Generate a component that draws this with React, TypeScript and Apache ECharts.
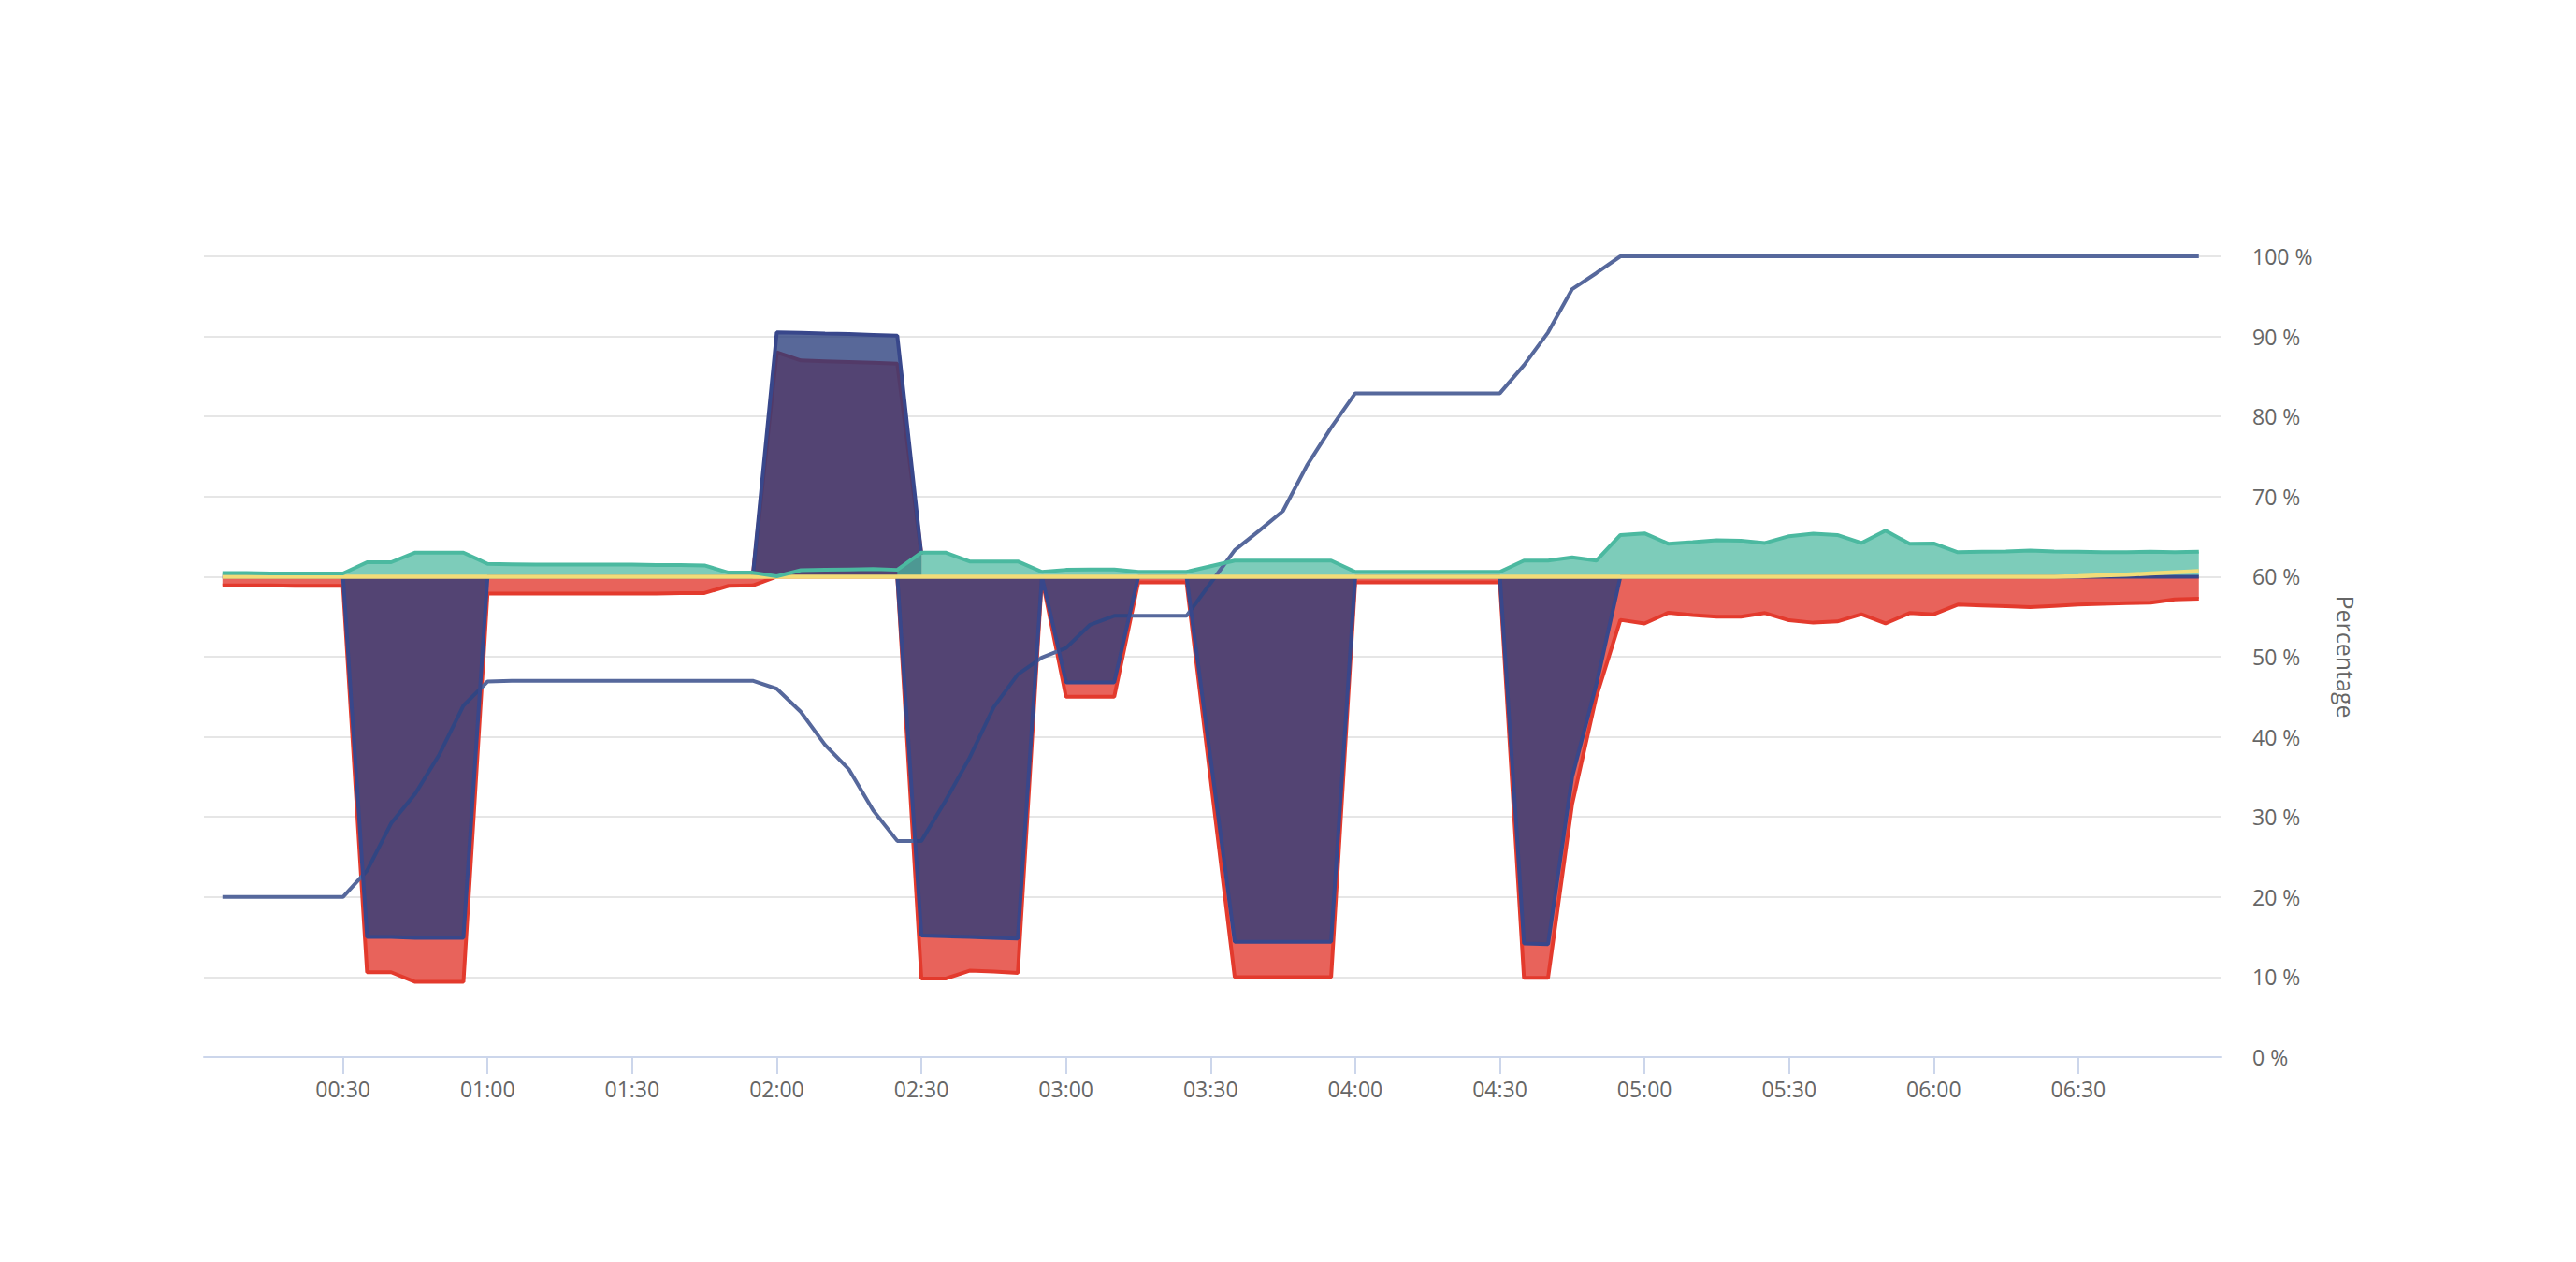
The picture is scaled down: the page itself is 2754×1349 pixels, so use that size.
import React, { useEffect, useRef } from "react";
import * as echarts from "echarts";

// ---- data ----
const times = [
  "00:05", "00:10", "00:15", "00:20", "00:25", "00:30", "00:35", "00:40", "00:45", "00:50",
  "00:55", "01:00", "01:05", "01:10", "01:15", "01:20", "01:25", "01:30", "01:35", "01:40",
  "01:45", "01:50", "01:55", "02:00", "02:05", "02:10", "02:15", "02:20", "02:25", "02:30",
  "02:35", "02:40", "02:45", "02:50", "02:55", "03:00", "03:05", "03:10", "03:15", "03:20",
  "03:25", "03:30", "03:35", "03:40", "03:45", "03:50", "03:55", "04:00", "04:05", "04:10",
  "04:15", "04:20", "04:25", "04:30", "04:35", "04:40", "04:45", "04:50", "04:55", "05:00",
  "05:05", "05:10", "05:15", "05:20", "05:25", "05:30", "05:35", "05:40", "05:45", "05:50",
  "05:55", "06:00", "06:05", "06:10", "06:15", "06:20", "06:25", "06:30", "06:35", "06:40",
  "06:45", "06:50", "06:55",
];

const tealValues = [
  60.45, 60.45, 60.4, 60.4, 60.4, 60.4, 61.8, 61.8, 63.0, 63.0,
  63.0, 61.6, 61.55, 61.5, 61.5, 61.5, 61.5, 61.5, 61.45, 61.45,
  61.4, 60.5, 60.5, 60.05, 60.8, 60.85, 60.9, 60.95, 60.85, 63.0,
  63.0, 61.9, 61.9, 61.9, 60.6, 60.85, 60.9, 60.9, 60.6, 60.6,
  60.6, 61.3, 62.0, 62.0, 62.0, 62.0, 62.0, 60.6, 60.6, 60.6,
  60.6, 60.6, 60.6, 60.6, 62.0, 62.0, 62.4, 62.0, 65.2, 65.4,
  64.1, 64.3, 64.55, 64.5, 64.2, 65.05, 65.35, 65.2, 64.2, 65.75,
  64.1, 64.15, 63.05, 63.1, 63.15, 63.25, 63.15, 63.1, 63.05, 63.05,
  63.1, 63.05, 63.1,
];

const redValues = [
  58.9, 58.9, 58.9, 58.85, 58.85, 58.85, 10.6, 10.6, 9.4, 9.4,
  9.4, 57.9, 57.9, 57.9, 57.9, 57.9, 57.9, 57.9, 57.9, 57.95,
  57.95, 58.85, 58.9, 60, 60, 60, 60, 60, 60, 9.8,
  9.8, 10.8, 10.7, 10.5, 59.8, 45.0, 45.0, 45.0, 59.3, 59.3,
  59.3, 34.7, 10.0, 10.0, 10.0, 10.0, 10.0, 59.3, 59.3, 59.3,
  59.3, 59.3, 59.3, 59.3, 9.9, 9.9, 31.6, 45.0, 54.6, 54.15,
  55.5, 55.2, 55.0, 55.0, 55.45, 54.55, 54.25, 54.4, 55.3, 54.15,
  55.45, 55.3, 56.5, 56.4, 56.3, 56.2, 56.35, 56.5, 56.6, 56.7,
  56.75, 57.15, 57.25,
];

// null = no value (the 02:00 block is drawn by its own arrays below)
const navyValues: (number | null)[] = [
  60, 60, 60, 60, 60, 60, 15.0, 15.0, 14.9, 14.9,
  14.9, 60, 60, 60, 60, 60, 60, 60, 60, 60,
  60, 60, 60, null, null, null, null, null, 60, 15.2,
  15.1, 15.0, 14.9, 14.8, 60, 46.8, 46.8, 46.8, 60, 60,
  60, 37.2, 14.4, 14.4, 14.4, 14.4, 14.4, 60, 60, 60,
  60, 60, 60, 60, 14.2, 14.1, 35.0, 46.5, 60, 60,
  60, 60, 60, 60, 60, 60, 60, 60, 60, 60,
  60, 60, 60, 60, 60, 60, 60, 60, 60, 60,
  60, 60, 60,
];

const blockTimes = ["01:55", "02:00", "02:05", "02:10", "02:15", "02:20", "02:25", "02:30"];
const blockOuter = [60, 90.5, 90.45, 90.35, 90.3, 90.2, 90.1, 62.8];
const blockInner = [60, 88.0, 87.0, 86.9, 86.8, 86.7, 86.6, 62.8];
const tealOverlapTimes = ["02:25", "02:30"];

const baselineValues = [
  60, 60, 60, 60, 60, 60, 60, 60, 60, 60,
  60, 60, 60, 60, 60, 60, 60, 60, 60, 60,
  60, 60, 60, 60, 60, 60, 60, 60, 60, 60,
  60, 60, 60, 60, 60, 60, 60, 60, 60, 60,
  60, 60, 60, 60, 60, 60, 60, 60, 60, 60,
  60, 60, 60, 60, 60, 60, 60, 60, 60, 60,
  60, 60, 60, 60, 60, 60, 60, 60, 60, 60,
  60, 60, 60, 60, 60, 60, 60, 60.05, 60.15, 60.25,
  60.4, 60.55, 60.7,
];

const blueValues = [
  20.0, 20.0, 20.0, 20.0, 20.0, 20.0, 23.3, 29.2, 32.9, 37.8,
  43.9, 46.9, 47.0, 47.0, 47.0, 47.0, 47.0, 47.0, 47.0, 47.0,
  47.0, 47.0, 47.0, 46.0, 43.1, 39.0, 35.9, 30.8, 27.0, 27.0,
  32.0, 37.4, 43.7, 47.8, 49.9, 51.1, 54.0, 55.1, 55.1, 55.1,
  55.1, 59.2, 63.3, 65.7, 68.2, 73.9, 78.6, 82.9, 82.9, 82.9,
  82.9, 82.9, 82.9, 82.9, 86.4, 90.5, 95.9, 97.9, 100, 100,
  100, 100, 100, 100, 100, 100, 100, 100, 100, 100,
  100, 100, 100, 100, 100, 100, 100, 100, 100, 100,
  100, 100, 100,
];

const xTickLabels = [
  "00:30", "01:00", "01:30", "02:00", "02:30", "03:00", "03:30",
  "04:00", "04:30", "05:00", "05:30", "06:00", "06:30",
];
const yTicks = [0, 10, 20, 30, 40, 50, 60, 70, 80, 90, 100];

// ---- helpers ----
const toMin = (t: string) => {
  const [h, m] = t.split(":").map(Number);
  return h * 60 + m;
};
const fmt = (v: number) => {
  const h = Math.floor(v / 60);
  const m = Math.round(v - h * 60);
  return String(h).padStart(2, "0") + ":" + String(m).padStart(2, "0");
};
const pairs = (ts: string[], vals: (number | null)[]) =>
  ts.map((t, i) => [toMin(t), vals[i] == null ? "-" : vals[i]]);

const FONT = "'Open Sans', 'Noto Sans', sans-serif";
const NAVY_FILL = "rgba(38,59,122,0.77)";
const NAVY_LINE = "#38478b";
const RED_FILL = "#e8635b";
const RED_LINE = "#e33a2d";
const TEAL_FILL = "rgba(75,184,159,0.72)";
const TEAL_LINE = "#4bb9a0";
const LW = 4;

function area(name: string, data: any[], line: string, fill: string, z: number, lw = LW) {
  return {
    type: "line",
    name,
    data,
    z,
    symbol: "none",
    showSymbol: false,
    silent: true,
    connectNulls: false,
    lineStyle: lw > 0 ? { color: line, width: lw } : { width: 0, opacity: 0 },
    itemStyle: { color: line },
    areaStyle: { color: fill, opacity: 1, origin: 60 },
  };
}
function line(name: string, data: any[], color: string, z: number, lw = LW) {
  return {
    type: "line",
    name,
    data,
    z,
    symbol: "none",
    showSymbol: false,
    silent: true,
    lineStyle: { color, width: lw },
    itemStyle: { color },
  };
}

export default function App() {
  const ref = useRef<HTMLDivElement>(null);

  useEffect(() => {
    document.body.style.margin = "0";
    document.body.style.overflow = "hidden";
    if (!ref.current) return;
    const chart = echarts.init(ref.current, null, { renderer: "svg" });

    const tealOverlap = tealOverlapTimes.map((t) => [toMin(t), tealValues[times.indexOf(t)]]);

    chart.setOption({
      animation: false,
      backgroundColor: "#ffffff",
      textStyle: { fontFamily: FONT },
      grid: { left: 218, right: 379, top: 274, bottom: 219, containLabel: false },
      xAxis: {
        type: "value",
        min: 1.16,
        max: 419.7,
        splitLine: { show: false },
        axisLine: { show: true, lineStyle: { color: "#ccd6eb", width: 2 } },
        axisTick: {
          show: true,
          length: 18,
          customValues: xTickLabels.map(toMin),
          lineStyle: { color: "#ccd6eb", width: 2 },
        },
        axisLabel: {
          customValues: xTickLabels.map(toMin),
          formatter: (v: number) => fmt(v),
          color: "#666666",
          fontSize: 23,
          fontFamily: FONT,
          margin: 22,
        },
      },
      yAxis: {
        type: "value",
        position: "right",
        min: 0,
        max: 100,
        interval: 10,
        name: "Percentage",
        nameLocation: "middle",
        nameRotate: -90,
        nameGap: 120,
        nameTextStyle: { color: "#666666", fontSize: 25, fontFamily: FONT },
        axisLine: { show: false },
        axisTick: { show: false },
        splitLine: { show: true, lineStyle: { color: "#e6e6e6", width: 2 } },
        axisLabel: {
          formatter: (v: number) => (yTicks.includes(v) ? v + " %" : ""),
          color: "#666666",
          fontSize: 23,
          fontFamily: FONT,
          margin: 33,
          align: "left",
        },
      },
      series: [
        area("Red", pairs(times, redValues), RED_LINE, RED_FILL, 3),
        area("Teal fill", pairs(times, tealValues), TEAL_LINE, TEAL_FILL, 4, 0),
        line("Cumulative", pairs(times, blueValues), "#56689c", 5),
        area("Block base", pairs(blockTimes, blockInner), RED_LINE, RED_FILL, 6),
        area("Block", pairs(blockTimes, blockOuter), NAVY_LINE, NAVY_FILL, 7),
        area("Navy", pairs(times, navyValues), NAVY_LINE, NAVY_FILL, 8),
        area("Teal overlap", tealOverlap, TEAL_LINE, TEAL_FILL, 9, 0),
        line("Baseline", pairs(times, baselineValues), "#f2dc78", 10, 4.5),
        line("Teal", pairs(times, tealValues), TEAL_LINE, 11),
      ],
    });

    return () => chart.dispose();
  }, []);

  return <div ref={ref} style={{ width: "2754px", height: "1349px" }} />;
}
